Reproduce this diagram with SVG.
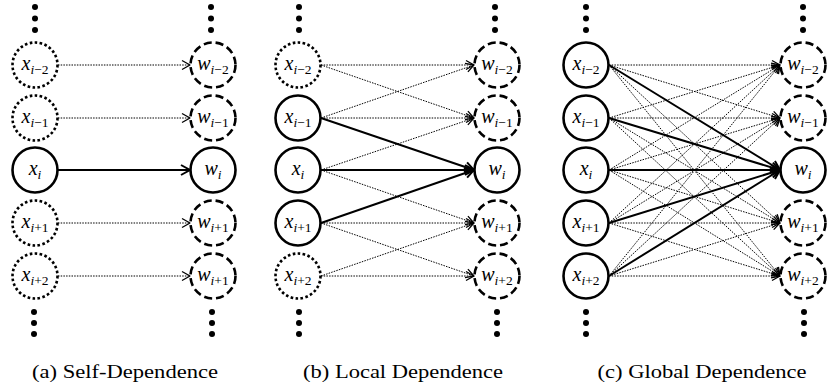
<svg xmlns="http://www.w3.org/2000/svg" width="827" height="388" viewBox="0 0 827 388">
<style>
.n{fill:#fff;stroke:#000;stroke-width:2.6}
.dot{stroke-dasharray:2.6 2.4}
.dash{stroke-dasharray:8 4}
.e{stroke:#000;stroke-width:1;stroke-dasharray:1.5 1.2;fill:none}
.s{stroke:#000;stroke-width:2;fill:none}
.lbl{font-family:"Liberation Serif",serif;font-size:20px;text-anchor:middle;fill:#000}
.lbl .v{font-style:italic}
.lbl .sub{font-size:13.5px}
.cap{font-family:"Liberation Serif",serif;font-size:19px;text-anchor:middle;fill:#000}
.el{fill:#000}
</style>
<defs>
<marker id="ah" markerUnits="userSpaceOnUse" markerWidth="12" markerHeight="12" refX="0" refY="0" viewBox="-10 -6 12 12" orient="auto" overflow="visible">
<path d="M-8,-4.5 L0,0 L-8,4.5" fill="none" stroke="#000" stroke-width="1.3"/>
</marker>
<marker id="ahs" markerUnits="userSpaceOnUse" markerWidth="12" markerHeight="12" refX="0" refY="0" viewBox="-10 -6 12 12" orient="auto" overflow="visible">
<path d="M-9,-5 L0,0 L-9,5" fill="none" stroke="#000" stroke-width="2"/>
</marker>
</defs>
<rect width="827" height="388" fill="#fff"/>

<g id="connectors">
<line class="e" x1="58" y1="65" x2="190" y2="65" marker-end="url(#ah)"/>
<line class="e" x1="58" y1="118" x2="190" y2="118" marker-end="url(#ah)"/>
<line class="e" x1="58" y1="223" x2="190" y2="223" marker-end="url(#ah)"/>
<line class="e" x1="58" y1="276" x2="190" y2="276" marker-end="url(#ah)"/>
<line class="s" x1="58" y1="170" x2="190" y2="170" marker-end="url(#ahs)"/>
<line class="e" x1="321" y1="65" x2="474" y2="65" marker-end="url(#ah)"/>
<line class="e" x1="321" y1="65" x2="474" y2="118" marker-end="url(#ah)"/>
<line class="e" x1="321" y1="118" x2="474" y2="65" marker-end="url(#ah)"/>
<line class="e" x1="321" y1="118" x2="474" y2="118" marker-end="url(#ah)"/>
<line class="e" x1="321" y1="170" x2="474" y2="118" marker-end="url(#ah)"/>
<line class="e" x1="321" y1="170" x2="474" y2="223" marker-end="url(#ah)"/>
<line class="e" x1="321" y1="223" x2="474" y2="223" marker-end="url(#ah)"/>
<line class="e" x1="321" y1="223" x2="474" y2="276" marker-end="url(#ah)"/>
<line class="e" x1="321" y1="276" x2="474" y2="223" marker-end="url(#ah)"/>
<line class="e" x1="321" y1="276" x2="474" y2="276" marker-end="url(#ah)"/>
<line class="s" x1="321" y1="118" x2="474" y2="170" marker-end="url(#ahs)"/>
<line class="s" x1="321" y1="170" x2="474" y2="170" marker-end="url(#ahs)"/>
<line class="s" x1="321" y1="223" x2="474" y2="170" marker-end="url(#ahs)"/>
<line class="e" x1="609" y1="65" x2="780" y2="65" marker-end="url(#ah)"/>
<line class="e" x1="609" y1="65" x2="780" y2="118" marker-end="url(#ah)"/>
<line class="e" x1="609" y1="65" x2="780" y2="223" marker-end="url(#ah)"/>
<line class="e" x1="609" y1="65" x2="780" y2="276" marker-end="url(#ah)"/>
<line class="e" x1="609" y1="118" x2="780" y2="65" marker-end="url(#ah)"/>
<line class="e" x1="609" y1="118" x2="780" y2="118" marker-end="url(#ah)"/>
<line class="e" x1="609" y1="118" x2="780" y2="223" marker-end="url(#ah)"/>
<line class="e" x1="609" y1="118" x2="780" y2="276" marker-end="url(#ah)"/>
<line class="e" x1="609" y1="170" x2="780" y2="65" marker-end="url(#ah)"/>
<line class="e" x1="609" y1="170" x2="780" y2="118" marker-end="url(#ah)"/>
<line class="e" x1="609" y1="170" x2="780" y2="223" marker-end="url(#ah)"/>
<line class="e" x1="609" y1="170" x2="780" y2="276" marker-end="url(#ah)"/>
<line class="e" x1="609" y1="223" x2="780" y2="65" marker-end="url(#ah)"/>
<line class="e" x1="609" y1="223" x2="780" y2="118" marker-end="url(#ah)"/>
<line class="e" x1="609" y1="223" x2="780" y2="223" marker-end="url(#ah)"/>
<line class="e" x1="609" y1="223" x2="780" y2="276" marker-end="url(#ah)"/>
<line class="e" x1="609" y1="276" x2="780" y2="65" marker-end="url(#ah)"/>
<line class="e" x1="609" y1="276" x2="780" y2="118" marker-end="url(#ah)"/>
<line class="e" x1="609" y1="276" x2="780" y2="223" marker-end="url(#ah)"/>
<line class="e" x1="609" y1="276" x2="780" y2="276" marker-end="url(#ah)"/>
<line class="s" x1="609" y1="65" x2="780" y2="170" marker-end="url(#ahs)"/>
<line class="s" x1="609" y1="118" x2="780" y2="170" marker-end="url(#ahs)"/>
<line class="s" x1="609" y1="170" x2="780" y2="170" marker-end="url(#ahs)"/>
<line class="s" x1="609" y1="223" x2="780" y2="170" marker-end="url(#ahs)"/>
<line class="s" x1="609" y1="276" x2="780" y2="170" marker-end="url(#ahs)"/>
</g>

<g id="ellipses">
<g class="el">
<circle cx="35" cy="7" r="3"/><circle cx="35" cy="18.5" r="3"/><circle cx="35" cy="30" r="3"/>
<circle cx="211" cy="7" r="3"/><circle cx="211" cy="18.5" r="3"/><circle cx="211" cy="30" r="3"/>
<circle cx="34" cy="312" r="3"/><circle cx="34" cy="323" r="3"/><circle cx="34" cy="334" r="3"/>
<circle cx="212" cy="312" r="3"/><circle cx="212" cy="323" r="3"/><circle cx="212" cy="334" r="3"/>
<circle cx="299" cy="7" r="3"/><circle cx="299" cy="18.5" r="3"/><circle cx="299" cy="30" r="3"/>
<circle cx="495" cy="7" r="3"/><circle cx="495" cy="18.5" r="3"/><circle cx="495" cy="30" r="3"/>
<circle cx="299" cy="312" r="3"/><circle cx="299" cy="323" r="3"/><circle cx="299" cy="334" r="3"/>
<circle cx="497" cy="312" r="3"/><circle cx="497" cy="323" r="3"/><circle cx="497" cy="334" r="3"/>
<circle cx="586" cy="7" r="3"/><circle cx="586" cy="18.5" r="3"/><circle cx="586" cy="30" r="3"/>
<circle cx="803" cy="7" r="3"/><circle cx="803" cy="18.5" r="3"/><circle cx="803" cy="30" r="3"/>
<circle cx="586" cy="312" r="3"/><circle cx="586" cy="323" r="3"/><circle cx="586" cy="334" r="3"/>
<circle cx="804" cy="312" r="3"/><circle cx="804" cy="323" r="3"/><circle cx="804" cy="334" r="3"/>
</g>
</g>

<g id="a-x-im2"><circle class="n dot" cx="35" cy="65" r="22.5"/><text class="lbl" x="35" y="70"><tspan class="v">x</tspan><tspan class="sub v" dy="4">i</tspan><tspan class="sub">−2</tspan></text></g>
<g id="a-x-im1"><circle class="n dot" cx="35" cy="118" r="22.5"/><text class="lbl" x="35" y="123"><tspan class="v">x</tspan><tspan class="sub v" dy="4">i</tspan><tspan class="sub">−1</tspan></text></g>
<g id="a-x-i"><circle class="n" cx="35" cy="170" r="22.5"/><text class="lbl" x="35" y="175"><tspan class="v">x</tspan><tspan class="sub v" dy="4">i</tspan></text></g>
<g id="a-x-ip1"><circle class="n dot" cx="35" cy="223" r="22.5"/><text class="lbl" x="35" y="228"><tspan class="v">x</tspan><tspan class="sub v" dy="4">i</tspan><tspan class="sub">+1</tspan></text></g>
<g id="a-x-ip2"><circle class="n dot" cx="35" cy="276" r="22.5"/><text class="lbl" x="35" y="281"><tspan class="v">x</tspan><tspan class="sub v" dy="4">i</tspan><tspan class="sub">+2</tspan></text></g>
<g id="a-w-im2"><circle class="n dash" cx="213" cy="65" r="22.5"/><text class="lbl" x="213" y="70"><tspan class="v">w</tspan><tspan class="sub v" dy="4">i</tspan><tspan class="sub">−2</tspan></text></g>
<g id="a-w-im1"><circle class="n dash" cx="213" cy="118" r="22.5"/><text class="lbl" x="213" y="123"><tspan class="v">w</tspan><tspan class="sub v" dy="4">i</tspan><tspan class="sub">−1</tspan></text></g>
<g id="a-w-i"><circle class="n" cx="213" cy="170" r="22.5"/><text class="lbl" x="213" y="175"><tspan class="v">w</tspan><tspan class="sub v" dy="4">i</tspan></text></g>
<g id="a-w-ip1"><circle class="n dash" cx="213" cy="223" r="22.5"/><text class="lbl" x="213" y="228"><tspan class="v">w</tspan><tspan class="sub v" dy="4">i</tspan><tspan class="sub">+1</tspan></text></g>
<g id="a-w-ip2"><circle class="n dash" cx="213" cy="276" r="22.5"/><text class="lbl" x="213" y="281"><tspan class="v">w</tspan><tspan class="sub v" dy="4">i</tspan><tspan class="sub">+1</tspan></text></g>

<g id="b-x-im2"><circle class="n dot" cx="298" cy="65" r="22.5"/><text class="lbl" x="298" y="70"><tspan class="v">x</tspan><tspan class="sub v" dy="4">i</tspan><tspan class="sub">−2</tspan></text></g>
<g id="b-x-im1"><circle class="n" cx="298" cy="118" r="22.5"/><text class="lbl" x="298" y="123"><tspan class="v">x</tspan><tspan class="sub v" dy="4">i</tspan><tspan class="sub">−1</tspan></text></g>
<g id="b-x-i"><circle class="n" cx="298" cy="170" r="22.5"/><text class="lbl" x="298" y="175"><tspan class="v">x</tspan><tspan class="sub v" dy="4">i</tspan></text></g>
<g id="b-x-ip1"><circle class="n" cx="298" cy="223" r="22.5"/><text class="lbl" x="298" y="228"><tspan class="v">x</tspan><tspan class="sub v" dy="4">i</tspan><tspan class="sub">+1</tspan></text></g>
<g id="b-x-ip2"><circle class="n dot" cx="298" cy="276" r="22.5"/><text class="lbl" x="298" y="281"><tspan class="v">x</tspan><tspan class="sub v" dy="4">i</tspan><tspan class="sub">+2</tspan></text></g>
<g id="b-w-im2"><circle class="n dash" cx="497" cy="65" r="22.5"/><text class="lbl" x="497" y="70"><tspan class="v">w</tspan><tspan class="sub v" dy="4">i</tspan><tspan class="sub">−2</tspan></text></g>
<g id="b-w-im1"><circle class="n dash" cx="497" cy="118" r="22.5"/><text class="lbl" x="497" y="123"><tspan class="v">w</tspan><tspan class="sub v" dy="4">i</tspan><tspan class="sub">−1</tspan></text></g>
<g id="b-w-i"><circle class="n" cx="497" cy="170" r="22.5"/><text class="lbl" x="497" y="175"><tspan class="v">w</tspan><tspan class="sub v" dy="4">i</tspan></text></g>
<g id="b-w-ip1"><circle class="n dash" cx="497" cy="223" r="22.5"/><text class="lbl" x="497" y="228"><tspan class="v">w</tspan><tspan class="sub v" dy="4">i</tspan><tspan class="sub">+1</tspan></text></g>
<g id="b-w-ip2"><circle class="n dash" cx="497" cy="276" r="22.5"/><text class="lbl" x="497" y="281"><tspan class="v">w</tspan><tspan class="sub v" dy="4">i</tspan><tspan class="sub">+2</tspan></text></g>

<g id="c-x-im2"><circle class="n" cx="586" cy="65" r="22.5"/><text class="lbl" x="586" y="70"><tspan class="v">x</tspan><tspan class="sub v" dy="4">i</tspan><tspan class="sub">−2</tspan></text></g>
<g id="c-x-im1"><circle class="n" cx="586" cy="118" r="22.5"/><text class="lbl" x="586" y="123"><tspan class="v">x</tspan><tspan class="sub v" dy="4">i</tspan><tspan class="sub">−1</tspan></text></g>
<g id="c-x-i"><circle class="n" cx="586" cy="170" r="22.5"/><text class="lbl" x="586" y="175"><tspan class="v">x</tspan><tspan class="sub v" dy="4">i</tspan></text></g>
<g id="c-x-ip1"><circle class="n" cx="586" cy="223" r="22.5"/><text class="lbl" x="586" y="228"><tspan class="v">x</tspan><tspan class="sub v" dy="4">i</tspan><tspan class="sub">+1</tspan></text></g>
<g id="c-x-ip2"><circle class="n" cx="586" cy="276" r="22.5"/><text class="lbl" x="586" y="281"><tspan class="v">x</tspan><tspan class="sub v" dy="4">i</tspan><tspan class="sub">+2</tspan></text></g>
<g id="c-w-im2"><circle class="n dash" cx="803" cy="65" r="22.5"/><text class="lbl" x="803" y="70"><tspan class="v">w</tspan><tspan class="sub v" dy="4">i</tspan><tspan class="sub">−2</tspan></text></g>
<g id="c-w-im1"><circle class="n dash" cx="803" cy="118" r="22.5"/><text class="lbl" x="803" y="123"><tspan class="v">w</tspan><tspan class="sub v" dy="4">i</tspan><tspan class="sub">−1</tspan></text></g>
<g id="c-w-i"><circle class="n" cx="803" cy="170" r="22.5"/><text class="lbl" x="803" y="175"><tspan class="v">w</tspan><tspan class="sub v" dy="4">i</tspan></text></g>
<g id="c-w-ip1"><circle class="n dash" cx="803" cy="223" r="22.5"/><text class="lbl" x="803" y="228"><tspan class="v">w</tspan><tspan class="sub v" dy="4">i</tspan><tspan class="sub">+1</tspan></text></g>
<g id="c-w-ip2"><circle class="n dash" cx="803" cy="276" r="22.5"/><text class="lbl" x="803" y="281"><tspan class="v">w</tspan><tspan class="sub v" dy="4">i</tspan><tspan class="sub">+2</tspan></text></g>

<g id="captions">
<text class="cap" x="125" y="378" textLength="186" lengthAdjust="spacingAndGlyphs">(a) Self-Dependence</text>
<text class="cap" x="403" y="378" textLength="200" lengthAdjust="spacingAndGlyphs">(b) Local Dependence</text>
<text class="cap" x="702" y="378" textLength="209" lengthAdjust="spacingAndGlyphs">(c) Global Dependence</text>
</g>
</svg>
